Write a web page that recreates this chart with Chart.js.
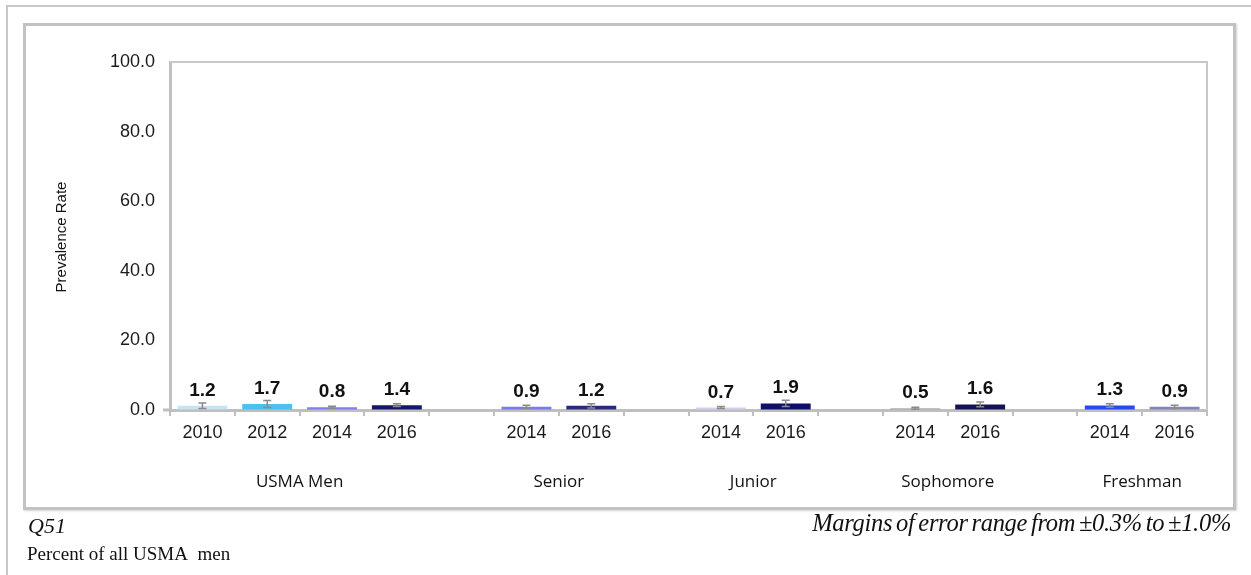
<!DOCTYPE html>
<html>
<head>
<meta charset="utf-8">
<script src="https://cdn.jsdelivr.net/npm/chart.js@4.4.1/dist/chart.umd.min.js"></script>
<style>
  html, body { margin: 0; padding: 0; background: #fff; }
  #page { position: relative; width: 1251px; height: 575px; overflow: hidden; }
  .frame-top  { position: absolute; left: 7px; top: 5px; width: 1244px; height: 2px; background: #c8c8c8; }
  .frame-left { position: absolute; left: 6px; top: 5px; width: 2px; height: 570px; background: #c8c8c8; }
  .box { position: absolute; left: 23px; top: 23px; width: 1207px; height: 481px;
         border: 3px solid #c2c2c2; box-shadow: 1px 1px 2px rgba(0,0,0,.18); }
  #chart { position: absolute; left: 0; top: 0; }
  .note { position: absolute; font-family: "Liberation Serif", "Times New Roman", serif; color: #111; white-space: nowrap; }
</style>
</head>
<body>
<div id="page">
  <div class="frame-top"></div>
  <div class="frame-left"></div>
  <div class="box"></div>
  <canvas id="chart" width="1251" height="575"></canvas>
  <div class="note" style="left:28px; top:513px; font-size:22px; font-style:italic;">Q51</div>
  <div class="note" style="left:27px; top:543px; font-size:19px;">Percent of all USMA&nbsp; men</div>
  <div class="note" style="right:20px; top:509px; font-size:24.5px; font-style:italic; letter-spacing:-0.3px; word-spacing:-2px;">Margins of error range from ±0.3% to ±1.0%</div>
</div>

<script>
  /* ---- data ---- */
  const yearLabels = ["2010", "2012", "2014", "2016", "", "2014", "2016", "", "2014", "2016", "", "2014", "2016", "", "2014", "2016"];
  const rates      = [1.2, 1.7, 0.8, 1.4, null, 0.9, 1.2, null, 0.7, 1.9, null, 0.5, 1.6, null, 1.3, 0.9];
  const margins    = [0.8, 1.0, 0.3, 0.4, null, 0.5, 0.6, null, 0.3, 0.9, null, 0.3, 0.7, null, 0.5, 0.5];
  const groupNames = ["USMA Men", "Senior", "Junior", "Sophomore", "Freshman"];
  const groupSpans = [[0, 3], [5, 6], [8, 9], [11, 12], [14, 15]];
  const yTicks     = [0, 20, 40, 60, 80, 100];

  const barColors = [
    "#c6e4f2", "#4cc0ee", "#7f7fef", "#16166a", null,
    "#7b7bec", "#2a2a78", null,
    "#cfcfef", "#10106a", null,
    "#adadb5", "#141452", null,
    "#2848f0", "#8585bc"
  ];

  /* ---- extras: plot border, error bars, value labels, group labels ---- */
  const extras = {
    id: "extras",
    beforeDatasetsDraw(chart) {
      const { ctx, chartArea: a } = chart;
      ctx.save();
      ctx.strokeStyle = "#c8c8c8";
      ctx.lineWidth = 2;
      ctx.beginPath();
      ctx.moveTo(a.left, a.top);
      ctx.lineTo(a.right, a.top);
      ctx.lineTo(a.right, a.bottom);
      ctx.stroke();
      // little stub of the x axis left of the y axis
      ctx.strokeStyle = "#bfbfbf";
      ctx.lineWidth = 3;
      ctx.beginPath();
      ctx.moveTo(a.left - 7, a.bottom);
      ctx.lineTo(a.left, a.bottom);
      ctx.stroke();
      ctx.restore();
    },
    afterDatasetsDraw(chart) {
      const { ctx, scales: { x, y } } = chart;
      ctx.save();
      rates.forEach((v, i) => {
        if (v === null) return;
        const cx = x.getPixelForValue(i);
        const m = margins[i];
        const yHi = y.getPixelForValue(v + m);
        const yLo = y.getPixelForValue(Math.max(0, v - m));
        ctx.strokeStyle = "#8a8a8a";
        ctx.lineWidth = 1.5;
        ctx.beginPath();
        ctx.moveTo(cx, yHi); ctx.lineTo(cx, yLo);
        ctx.moveTo(cx - 4, yHi); ctx.lineTo(cx + 4, yHi);
        ctx.moveTo(cx - 4, yLo); ctx.lineTo(cx + 4, yLo);
        ctx.stroke();

        ctx.fillStyle = "#111";
        ctx.font = "bold 19px 'Liberation Sans', Arial, sans-serif";
        ctx.textAlign = "center";
        ctx.textBaseline = "alphabetic";
        ctx.fillText(v.toFixed(1), cx, y.getPixelForValue(v) - 10);
      });

      ctx.fillStyle = "#111";
      ctx.font = "17px 'Open Sans', sans-serif";
      ctx.textAlign = "center";
      ctx.textBaseline = "middle";
      groupNames.forEach((name, g) => {
        const [s, e] = groupSpans[g];
        const cx = (x.getPixelForValue(s) + x.getPixelForValue(e)) / 2;
        ctx.fillText(name, cx, 482);
      });

      ctx.translate(62, 237);
      ctx.rotate(-Math.PI / 2);
      ctx.font = "15px 'Liberation Sans', Arial, sans-serif";
      ctx.fillText("Prevalence Rate", 0, 0);
      ctx.restore();
    }
  };

  new Chart(document.getElementById("chart"), {
    type: "bar",
    data: {
      labels: yearLabels,
      datasets: [{
        data: rates,
        backgroundColor: barColors,
        borderWidth: 0,
        categoryPercentage: 1,
        barPercentage: 0.77
      }]
    },
    options: {
      responsive: false,
      animation: false,
      layout: { padding: { left: 0, top: 62, right: 44, bottom: 0 } },
      plugins: { legend: { display: false }, tooltip: { enabled: false } },
      scales: {
        x: {
          afterFit: (s) => { s.height = 165; },
          grid: { offset: true, drawOnChartArea: false, drawTicks: true, tickLength: 6, color: "#bfbfbf", lineWidth: 2 },
          border: { display: true, color: "#bfbfbf", width: 3 },
          ticks: { color: "#1a1a1a", padding: 6, maxRotation: 0, autoSkip: false,
                   font: { family: "'Liberation Sans', Arial, sans-serif", size: 18 } }
        },
        y: {
          min: 0, max: 100,
          afterFit: (s) => { s.width = 170; },
          afterBuildTicks: (s) => { s.ticks = yTicks.map(v => ({ value: v })); },
          grid: { drawOnChartArea: false, drawTicks: false },
          border: { display: true, color: "#bfbfbf", width: 3 },
          ticks: { color: "#1a1a1a", padding: 15, callback: (v) => Number(v).toFixed(1),
                   font: { family: "'Liberation Sans', Arial, sans-serif", size: 18 } }
        }
      }
    },
    plugins: [extras]
  });
</script>
</body>
</html>
